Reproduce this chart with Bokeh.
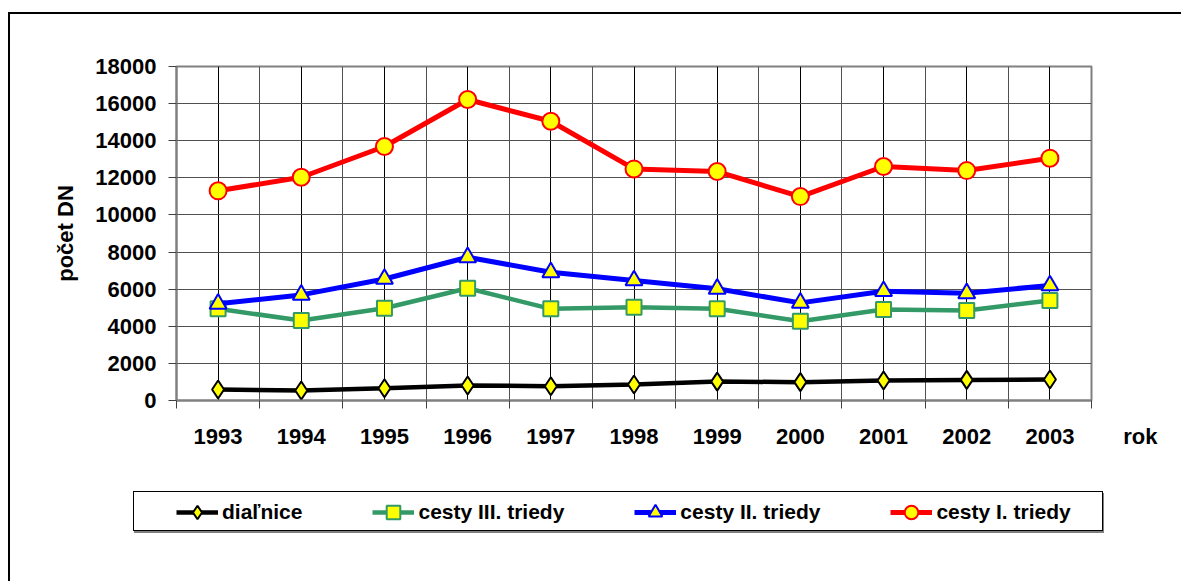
from bokeh.plotting import figure
from bokeh.layouts import column
from bokeh.models import (Range1d, FixedTicker, Legend, LegendItem, InlineStyleSheet)
from bokeh.embed import file_html
from bokeh.resources import INLINE

years = ["1993", "1994", "1995", "1996", "1997", "1998", "1999", "2000", "2001", "2002", "2003"]
dialnice = [590, 540, 660, 810, 770, 860, 1020, 990, 1080, 1110, 1130]
cesty_III = [4940, 4310, 4970, 6050, 4940, 5030, 4940, 4270, 4900, 4850, 5390]
cesty_II = [5210, 5690, 6550, 7720, 6910, 6470, 6020, 5260, 5890, 5780, 6200]
cesty_I = [11300, 12030, 13690, 16220, 15050, 12480, 12340, 10990, 12610, 12390, 13060]
y_ticks = [0, 2000, 4000, 6000, 8000, 10000, 12000, 14000, 16000, 18000]
x_title = "rok"
y_title = "počet DN"

FONT = "Liberation Sans"
xs = list(range(len(years)))
n = len(years)

p = figure(width=1181, height=455, output_backend="svg", toolbar_location=None,
           x_range=Range1d(-0.5, n - 0.5), y_range=Range1d(0, 18000),
           min_border_left=176, min_border_top=66, min_border_right=90, min_border_bottom=55)
p.outline_line_color = "#808080"
p.outline_line_width = 2

# category centres carry the year labels; the right edge carries the axis title
xt = FixedTicker(ticks=xs + [n - 0.5], minor_ticks=[i - 0.5 for i in range(n + 1)])
labels = {i: y for i, y in enumerate(years)}
labels[n - 0.5] = "\u00a0" * 16 + x_title
p.xaxis.ticker = xt
p.xaxis.major_label_overrides = labels
p.xaxis.major_tick_out = 0
p.xaxis.major_tick_in = 0
p.xaxis.minor_tick_out = 8
p.xaxis.minor_tick_in = 0
p.xaxis.minor_tick_line_color = "#404040"
p.xaxis.axis_line_color = "#808080"
p.xaxis.axis_line_width = 2
p.xaxis.major_label_standoff = 15
p.xaxis.major_label_text_font = FONT
p.xaxis.major_label_text_font_style = "bold"
p.xaxis.major_label_text_font_size = "22px"
p.xaxis.major_label_text_color = "black"

p.yaxis.ticker = FixedTicker(ticks=y_ticks)
p.yaxis.major_tick_out = 8
p.yaxis.major_tick_in = 0
p.yaxis.minor_tick_out = 0
p.yaxis.minor_tick_in = 0
p.yaxis.major_tick_line_color = "#404040"
p.yaxis.axis_line_color = "#808080"
p.yaxis.axis_line_width = 2
p.yaxis.major_label_standoff = 12
p.yaxis.major_label_text_font = FONT
p.yaxis.major_label_text_font_style = "bold"
p.yaxis.major_label_text_font_size = "22px"
p.yaxis.major_label_text_color = "black"
p.yaxis.axis_label = y_title
p.yaxis.axis_label_standoff = 14
p.yaxis.axis_label_text_font = FONT
p.yaxis.axis_label_text_font_style = "bold"
p.yaxis.axis_label_text_font_size = "22px"
p.yaxis.axis_label_text_color = "black"

p.xgrid.ticker = FixedTicker(ticks=xs, minor_ticks=[i - 0.5 for i in range(n + 1)])
p.xgrid.grid_line_color = "black"
p.xgrid.grid_line_width = 1
p.xgrid.minor_grid_line_color = "#505050"
p.xgrid.minor_grid_line_width = 1
p.ygrid.grid_line_color = "#505050"
p.ygrid.grid_line_width = 1

series = [
    ("diaľnice", dialnice, "black", "diamond", 18, 4.5),
    ("cesty III. triedy", cesty_III, "#339966", "square", 15, 4.5),
    ("cesty II. triedy", cesty_II, "#0000FF", "triangle", 17, 5),
    ("cesty I. triedy", cesty_I, "#FF0000", "circle", 17, 5),
]

# legend strip: a second figure, frame aligned with the main plot's frame;
# its series sit outside its (tiny) ranges, only the legend shows
lf = figure(width=1181, height=126, output_backend="svg", toolbar_location=None,
            x_range=Range1d(0, 1), y_range=Range1d(-1, 0),
            x_axis_type=None, y_axis_type=None,
            min_border_left=176, min_border_right=90, min_border_top=0, min_border_bottom=0)
lf.outline_line_color = None

items = []
for name, vals, col, mk, sz, lw in series:
    p.line(xs, vals, line_color=col, line_width=lw)
    p.scatter(xs, vals, marker=mk, size=sz, fill_color="#FFFF00",
              line_color=col, line_width=2)
    ll = lf.line(xs, vals, line_color=col, line_width=lw)
    lm = lf.scatter(xs, vals, marker=mk, size=sz, fill_color="#FFFF00",
                    line_color=col, line_width=2)
    items.append(LegendItem(label=name, renderers=[ll, lm]))

legend = Legend(items=items, orientation="horizontal", location=(0, 52),
                padding=0, spacing=70, glyph_width=42, glyph_height=34,
                label_standoff=4, label_text_font=FONT, label_text_font_style="bold",
                label_text_font_size="21px", label_text_color="black",
                border_line_color=None, background_fill_alpha=0, margin=0)
lf.add_layout(legend, "center")

css = InlineStyleSheet(css="""
:host::after { content: ""; position: absolute; left: 8px; top: 12px; width: 1173px; height: 569px;
  border-left: 2px solid black; border-top: 2px solid black; pointer-events: none; z-index: 10; box-sizing: border-box; }
:host::before { content: ""; position: absolute; left: 133px; top: 491px; width: 970px; height: 40px;
  border: 1px solid black; box-shadow: 1px 2px 0 #808080; pointer-events: none; z-index: 10; box-sizing: border-box; }
""")
layout = column(p, lf, spacing=0, stylesheets=[css])

open("out.html", "w").write(file_html(layout, INLINE))
